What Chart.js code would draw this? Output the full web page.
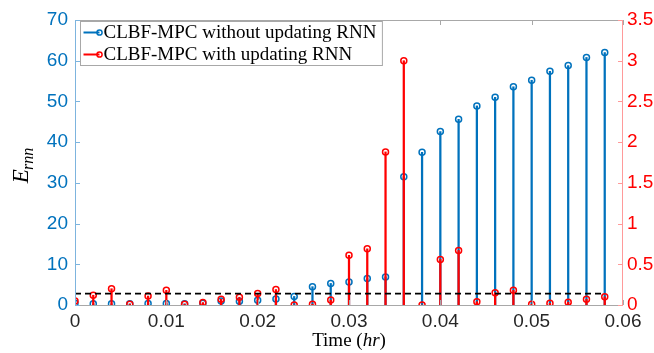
<!DOCTYPE html>
<html>
<head>
<meta charset="utf-8">
<script src="https://cdn.jsdelivr.net/npm/chart.js@4"></script>
<style>
  html, body { margin: 0; padding: 0; background: #fff; }
  #wrap { width: 654px; height: 353px; }
</style>
</head>
<body>
<div id="wrap"><canvas id="errChart" width="654" height="353"></canvas></div>
<script>
// === DATA ===
const times = [0, 0.002, 0.004, 0.006, 0.008, 0.010, 0.012, 0.014, 0.016, 0.018,
               0.020, 0.022, 0.024, 0.026, 0.028, 0.030, 0.032, 0.034, 0.036, 0.038,
               0.040, 0.042, 0.044, 0.046, 0.048, 0.050, 0.052, 0.054, 0.056, 0.058];
// left axis (blue)
const errNoUpdate = [0.4, 0.3, 0.3, 0.3, 0.35, 0.35, 0.3, 0.4, 1.0, 0.9,
                     1.15, 1.5, 2.1, 4.5, 5.3, 5.65, 6.5, 6.9, 31.5, 37.5,
                     42.6, 45.6, 48.9, 51.0, 53.6, 55.2, 57.4, 58.8, 60.8, 62.0];
// right axis (red)
const errUpdate = [0.05, 0.12, 0.2, 0.01, 0.11, 0.18, 0.01, 0.03, 0.07, 0.095,
                   0.14, 0.19, 0.0, 0.01, 0.06, 0.61, 0.69, 1.88, 3.0, 0.0,
                   0.56, 0.67, 0.04, 0.15, 0.18, 0.01, 0.02, 0.035, 0.07, 0.1];
const thresholdX = [0, 0.058];
const thresholdY = 0.14;
const xTicks = [0, 0.01, 0.02, 0.03, 0.04, 0.05, 0.06];
const leftTicks = [0, 10, 20, 30, 40, 50, 60, 70];
const rightTicks = [0, 0.5, 1, 1.5, 2, 2.5, 3, 3.5];
const labels = ['CLBF-MPC without updating RNN', 'CLBF-MPC with updating RNN'];

const BLUE = '#0072BD';
const RED = '#FF0000';
const SANS = '"Liberation Sans", Arial, sans-serif';
const SERIF = '"Liberation Serif", "Times New Roman", serif';

const pts = (ys) => times.map((t, i) => ({ x: t, y: ys[i] }));

// === AXES BOX, INSIDE TICKS, TITLES, LEGEND ===
const decorPlugin = {
  id: 'decor',
  afterDraw(chart) {
    const c = chart.ctx;
    const a = chart.chartArea;
    const sx = chart.scales.x, sl = chart.scales.y, sr = chart.scales.y1;
    c.save();
    c.lineWidth = 1;
    // bottom / top
    c.strokeStyle = '#a8a8a8';
    c.beginPath();
    c.moveTo(a.left, a.bottom + 0.5); c.lineTo(a.right, a.bottom + 0.5);
    c.moveTo(a.left, a.top + 0.5); c.lineTo(a.right, a.top + 0.5);
    xTicks.forEach(v => {
      const px = Math.round(sx.getPixelForValue(v)) + 0.5;
      c.moveTo(px, a.bottom); c.lineTo(px, a.bottom - 5);
      c.moveTo(px, a.top); c.lineTo(px, a.top + 5);
    });
    c.stroke();
    // left (blue)
    c.strokeStyle = '#7db4de';
    c.beginPath();
    c.moveTo(a.left + 0.5, a.top); c.lineTo(a.left + 0.5, a.bottom);
    leftTicks.forEach(v => {
      const py = Math.round(sl.getPixelForValue(v)) + 0.5;
      c.moveTo(a.left, py); c.lineTo(a.left + 5, py);
    });
    c.stroke();
    // right (red)
    c.strokeStyle = '#ff9a9a';
    c.beginPath();
    c.moveTo(a.right - 0.5, a.top); c.lineTo(a.right - 0.5, a.bottom);
    rightTicks.forEach(v => {
      const py = Math.round(sr.getPixelForValue(v)) + 0.5;
      c.moveTo(a.right, py); c.lineTo(a.right - 5, py);
    });
    c.stroke();

    // y title: E_rnn
    c.fillStyle = '#000';
    c.translate(28, 165);
    c.rotate(-Math.PI / 2);
    c.textBaseline = 'alphabetic';
    c.font = 'italic 23px ' + SERIF;
    const wE = c.measureText('E').width;
    c.font = 'italic 16px ' + SERIF;
    const wS = c.measureText('rnn').width;
    const x0 = -(wE + wS) / 2;
    c.font = 'italic 23px ' + SERIF;
    c.fillText('E', x0, 0);
    c.font = 'italic 16px ' + SERIF;
    c.fillText('rnn', x0 + wE - 1, 5);
    c.setTransform(1, 0, 0, 1, 0, 0);

    // x title: Time (hr)
    const parts = [['Time (', 'normal'], ['hr', 'italic'], [')', 'normal']];
    let total = 0;
    parts.forEach(p => { c.font = p[1] + ' 19px ' + SERIF; total += c.measureText(p[0]).width; });
    let tx = (a.left + a.right) / 2 - total / 2;
    parts.forEach(p => {
      c.font = p[1] + ' 19px ' + SERIF;
      c.fillText(p[0], tx, 346);
      tx += c.measureText(p[0]).width;
    });

    // legend
    c.font = '19px ' + SERIF;
    const tw = Math.max(...labels.map(l => c.measureText(l).width));
    const bx = 80.5, by = 21.5, bw = 23 + tw + 6, bh = 44;
    c.fillStyle = '#fff';
    c.fillRect(bx, by, bw, bh);
    c.strokeStyle = '#a8a8a8';
    c.lineWidth = 1;
    c.strokeRect(bx, by, bw, bh);
    [BLUE, RED].forEach((col, i) => {
      const ly = by + 11 + i * 22;
      c.strokeStyle = col;
      c.lineWidth = 2;
      c.beginPath(); c.moveTo(bx + 3, ly); c.lineTo(bx + 19, ly); c.stroke();
      c.lineWidth = 1.5;
      c.beginPath(); c.arc(bx + 19, ly, 2.6, 0, Math.PI * 2); c.stroke();
      c.fillStyle = '#000';
      c.textBaseline = 'middle';
      c.fillText(labels[i], bx + 23, ly + 1);
    });
    c.restore();
  }
};

const ctx = document.getElementById('errChart');
new Chart(ctx, {
  type: 'bar',
  data: {
    datasets: [
      { type: 'bar', label: labels[0], data: pts(errNoUpdate), yAxisID: 'y',
        backgroundColor: BLUE, barThickness: 1.6, grouped: false, order: 6 },
      { type: 'line', label: labels[0] + ' markers', data: pts(errNoUpdate), yAxisID: 'y',
        showLine: false, pointRadius: 3, pointBorderWidth: 1.5, pointBorderColor: BLUE,
        pointBackgroundColor: 'rgba(0,0,0,0)', order: 5 },
      { type: 'bar', label: labels[1], data: pts(errUpdate), yAxisID: 'y1',
        backgroundColor: RED, barThickness: 1.6, grouped: false, order: 4 },
      { type: 'line', label: labels[1] + ' markers', data: pts(errUpdate), yAxisID: 'y1',
        showLine: false, pointRadius: 3, pointBorderWidth: 1.5, pointBorderColor: RED,
        pointBackgroundColor: 'rgba(0,0,0,0)', order: 3 },
      { type: 'line', label: 'threshold', data: thresholdX.map(x => ({ x: x, y: thresholdY })),
        yAxisID: 'y1', borderColor: '#000', borderWidth: 1.6, borderDash: [6, 4],
        pointRadius: 0, order: 1 }
    ]
  },
  options: {
    responsive: false, animation: false,
    layout: { padding: { top: 20, left: 0, right: 0, bottom: 0 } },
    plugins: { legend: { display: false }, tooltip: { enabled: false } },
    scales: {
      x: {
        type: 'linear', min: 0, max: 0.06, offset: false,
        grid: { display: false, offset: false, drawTicks: false }, border: { display: false },
        afterBuildTicks: s => { s.ticks = xTicks.map(v => ({ value: v })); },
        afterFit: s => { s.height = 48; },
        ticks: { padding: 5, color: '#262626', font: { family: SANS, size: 19 },
                 maxRotation: 0, callback: v => String(v) }
      },
      y: {
        position: 'left', min: 0, max: 70,
        grid: { display: false, drawTicks: false }, border: { display: false },
        afterBuildTicks: s => { s.ticks = leftTicks.map(v => ({ value: v })); },
        afterFit: s => { s.width = 75; },
        ticks: { padding: 7, color: BLUE, font: { family: SANS, size: 19 }, callback: v => String(v) }
      },
      y1: {
        position: 'right', min: 0, max: 3.5,
        grid: { display: false, drawTicks: false }, border: { display: false },
        afterBuildTicks: s => { s.ticks = rightTicks.map(v => ({ value: v })); },
        afterFit: s => { s.width = 31; },
        ticks: { padding: 4, color: RED, font: { family: SANS, size: 19 }, callback: v => String(v) }
      }
    }
  },
  plugins: [decorPlugin]
});
</script>
</body>
</html>
